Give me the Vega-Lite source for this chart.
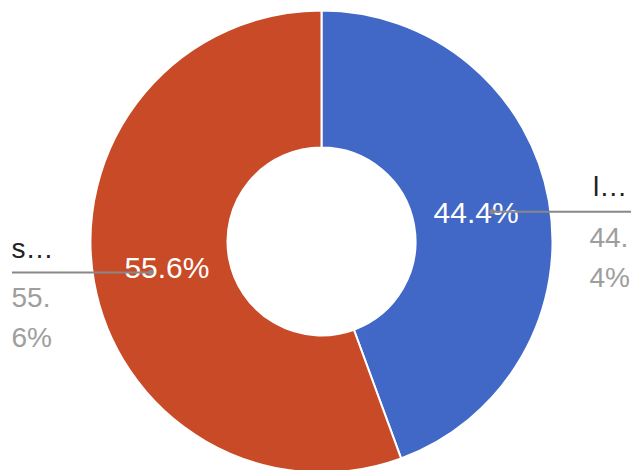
{
  "$schema": "https://vega.github.io/schema/vega-lite/v6.json",
  "width": 619,
  "height": 457,
  "autosize": {"type": "none"},
  "padding": {"left": 12, "top": 13, "right": 0, "bottom": 0},
  "background": "white",
  "config": {"view": {"stroke": null}, "font": "Liberation Sans"},
  "datasets": {
    "slices": [
      {"category": "l…", "value": 44.4, "idx": 1, "label": "44.4%"},
      {"category": "s…", "value": 55.6, "idx": 2, "label": "55.6%"}
    ],
    "leaders": [
      {"category": "l…", "x0": 0.739, "x1": 1.34, "y": 0.129},
      {"category": "s…", "x0": -0.739, "x1": -1.34, "y": -0.134}
    ],
    "names": [
      {"category": "l…", "x": 1.175, "y": 0.197, "text": "l…"},
      {"category": "s…", "x": -1.342, "y": -0.0714, "text": "s…"}
    ],
    "pcts": [
      {"category": "l…", "x": 1.160, "y": -0.024, "text": "44.\n4%"},
      {"category": "s…", "x": -1.342, "y": -0.2835, "text": "55.\n6%"}
    ]
  },
  "layer": [
    {
      "data": {"name": "slices"},
      "encoding": {
        "theta": {"field": "value", "type": "quantitative", "stack": true},
        "order": {"field": "idx", "type": "quantitative"}
      },
      "layer": [
        {
          "mark": {"type": "arc", "outerRadius": 231, "innerRadius": 94, "stroke": "white", "strokeWidth": 2},
          "encoding": {
            "color": {
              "field": "category",
              "type": "nominal",
              "scale": {"domain": ["l…", "s…"], "range": ["#4167C7", "#C84A27"]},
              "legend": null
            }
          }
        },
        {
          "mark": {"type": "text", "radius": 157, "fontSize": 30, "fill": "white"},
          "encoding": {"text": {"field": "label", "type": "nominal"}}
        }
      ]
    },
    {
      "data": {"name": "leaders"},
      "mark": {"type": "rule", "color": "#888888", "strokeWidth": 2},
      "encoding": {
        "x": {"field": "x0", "type": "quantitative", "scale": {"domain": [-1.3398, 1.3398], "nice": false, "zero": false}, "axis": null},
        "x2": {"field": "x1"},
        "y": {"field": "y", "type": "quantitative", "scale": {"domain": [-0.9892, 0.9892], "nice": false, "zero": false}, "axis": null}
      }
    },
    {
      "data": {"name": "leaders"},
      "mark": {"type": "point", "filled": true, "color": "#888888", "size": 30, "opacity": 1},
      "encoding": {
        "x": {"field": "x0", "type": "quantitative", "scale": {"domain": [-1.3398, 1.3398], "nice": false, "zero": false}, "axis": null},
        "y": {"field": "y", "type": "quantitative", "scale": {"domain": [-0.9892, 0.9892], "nice": false, "zero": false}, "axis": null}
      }
    },
    {
      "data": {"name": "names"},
      "mark": {"type": "text", "align": "left", "baseline": "alphabetic", "fontSize": 28, "fill": "#222222"},
      "encoding": {
        "x": {"field": "x", "type": "quantitative", "scale": {"domain": [-1.3398, 1.3398], "nice": false, "zero": false}, "axis": null},
        "y": {"field": "y", "type": "quantitative", "scale": {"domain": [-0.9892, 0.9892], "nice": false, "zero": false}, "axis": null},
        "text": {"field": "text", "type": "nominal"}
      }
    },
    {
      "data": {"name": "pcts"},
      "mark": {"type": "text", "align": "left", "baseline": "alphabetic", "fontSize": 28, "fill": "#9E9E9E", "lineBreak": "\n", "lineHeight": 40},
      "encoding": {
        "x": {"field": "x", "type": "quantitative", "scale": {"domain": [-1.3398, 1.3398], "nice": false, "zero": false}, "axis": null},
        "y": {"field": "y", "type": "quantitative", "scale": {"domain": [-0.9892, 0.9892], "nice": false, "zero": false}, "axis": null},
        "text": {"field": "text", "type": "nominal"}
      }
    }
  ]
}
